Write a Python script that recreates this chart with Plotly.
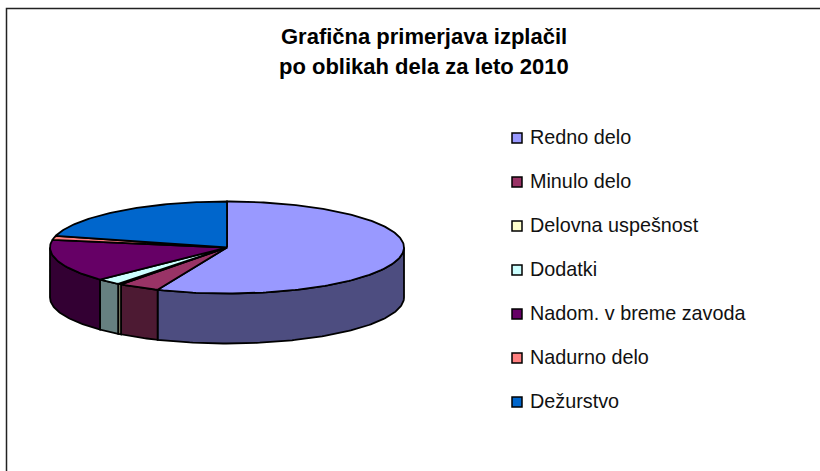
import numpy as np
import plotly.graph_objects as go

categories = ["Redno delo", "Minulo delo", "Delovna uspešnost", "Dodatki",
              "Nadom. v breme zavoda", "Nadurno delo", "Dežurstvo"]
values = [56.4, 3.8, 0.33, 2.2, 14.9, 1.45, 20.9]
top_colors = ["#9999FF", "#993366", "#FFFFCC", "#CCFFFF", "#660066", "#FF8080", "#0066CC"]
side_colors = ["#4D4D80", "#4D1A33", "#808066", "#668080", "#330033", "#804040", "#003366"]
title_lines = ["Grafična primerjava izplačil", "po oblikah dela za leto 2010"]

W, H = 820, 471
CX, CY, RX, RY, DEPTH = 227, 247.5, 177, 46, 50
LEG_X, LEG_Y0, LEG_DY = 517, 138, 44

fracs = np.array(values) / sum(values)
edges = np.concatenate([[0], np.cumsum(fracs)]) * 360


def arc(a, b, dy=0):
    t = np.radians(np.linspace(a, b, max(3, int(abs(b - a)) + 2)))
    return CX + RX * np.sin(t), CY + dy - RY * np.cos(t)


fig = go.Figure()

# side walls (front half only: 90 to 270 degrees from twelve o'clock)
for i, name in enumerate(categories):
    a, b = max(edges[i], 90), min(edges[i + 1], 270)
    if b <= a:
        continue
    x1, y1 = arc(a, b)
    x2, y2 = arc(b, a, DEPTH)
    fig.add_trace(go.Scatter(
        x=np.r_[x1, x2, x1[0]], y=np.r_[y1, y2, y1[0]], mode="lines", fill="toself",
        fillcolor=side_colors[i], line=dict(color="#000000", width=1.8),
        showlegend=False, hoverinfo="skip"))

# top faces
for i, name in enumerate(categories):
    x1, y1 = arc(edges[i], edges[i + 1])
    fig.add_trace(go.Scatter(
        x=np.r_[CX, x1, CX], y=np.r_[CY, y1, CY], mode="lines", fill="toself",
        fillcolor=top_colors[i], line=dict(color="#000000", width=1.8),
        name=name, showlegend=False, hovertemplate=f"{name}: {values[i]}%<extra></extra>"))

# legend keys and labels
annotations = []
for i, name in enumerate(categories):
    y = LEG_Y0 + i * LEG_DY
    fig.add_trace(go.Scatter(
        x=[LEG_X], y=[y], mode="markers", showlegend=False, hoverinfo="skip",
        marker=dict(symbol="square", size=10, color=top_colors[i],
                    line=dict(color="#000000", width=1.5))))
    annotations.append(dict(x=528, y=y - 1, text=name, showarrow=False, xanchor="left",
                            yanchor="middle", xref="x", yref="y",
                            font=dict(family="Liberation Sans", size=19.8, color="#111111")))

for text, y in zip(title_lines, (36, 66)):
    annotations.append(dict(x=423.5, y=y, text=f"<b>{text}</b>", showarrow=False,
                            xanchor="center", yanchor="middle", xref="x", yref="y",
                            font=dict(family="Liberation Sans", size=22, color="#000000")))

fig.update_layout(
    width=W, height=H, margin=dict(l=0, r=0, t=0, b=0),
    paper_bgcolor="#FFFFFF", plot_bgcolor="#FFFFFF", showlegend=False,
    xaxis=dict(range=[0, W], visible=False, fixedrange=True),
    yaxis=dict(range=[H, 0], visible=False, fixedrange=True),
    annotations=annotations,
    shapes=[dict(type="rect", xref="x", yref="y", x0=6.5, y0=8.5, x1=W + 10, y1=H + 10,
                 line=dict(color="#222222", width=1.5), fillcolor="rgba(0,0,0,0)", layer="below")],
)
fig.write_html("out.html", config=dict(displayModeBar=False),
               post_script="document.body.style.margin='0';document.body.style.overflow='hidden';")
